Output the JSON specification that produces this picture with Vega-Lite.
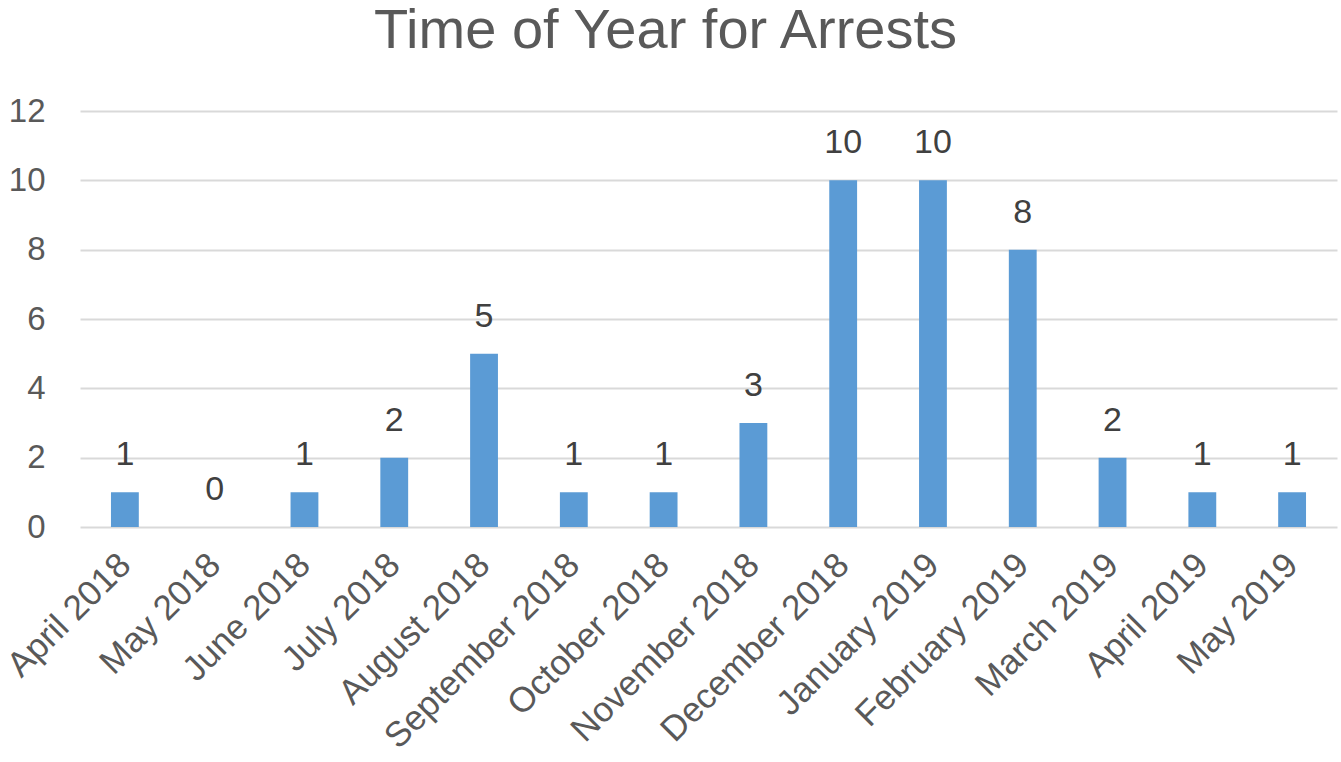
{
  "$schema": "https://vega.github.io/schema/vega-lite/v6.json",
  "width": 1257,
  "height": 416,
  "autosize": {"type": "none"},
  "padding": {"left": 80, "top": 111, "right": 4, "bottom": 235},
  "background": "white",
  "title": {
    "text": "Time of Year for Arrests",
    "font": "Liberation Sans",
    "fontSize": 56,
    "fontWeight": "normal",
    "color": "#595959",
    "anchor": "middle",
    "frame": "group",
    "dx": -43,
    "offset": 35
  },
  "data": {
    "values": [
      {"month": "April 2018", "arrests": 1},
      {"month": "May 2018", "arrests": 0},
      {"month": "June 2018", "arrests": 1},
      {"month": "July 2018", "arrests": 2},
      {"month": "August 2018", "arrests": 5},
      {"month": "September 2018", "arrests": 1},
      {"month": "October 2018", "arrests": 1},
      {"month": "November 2018", "arrests": 3},
      {"month": "December 2018", "arrests": 10},
      {"month": "January 2019", "arrests": 10},
      {"month": "February 2019", "arrests": 8},
      {"month": "March 2019", "arrests": 2},
      {"month": "April 2019", "arrests": 1},
      {"month": "May 2019", "arrests": 1}
    ]
  },
  "encoding": {
    "x": {
      "field": "month",
      "type": "nominal",
      "sort": null,
      "scale": {"paddingInner": 0.69, "paddingOuter": 0.345},
      "axis": {
        "title": null,
        "labelAngle": -45,
        "labelAlign": "right",
        "labelBaseline": "middle",
        "labelFont": "Liberation Sans",
        "labelFontSize": 35,
        "labelColor": "#595959",
        "labelPadding": 32,
        "labelLimit": 0,
        "ticks": false,
        "domain": false,
        "grid": false
      }
    },
    "y": {
      "field": "arrests",
      "type": "quantitative",
      "scale": {"domain": [0, 12]},
      "axis": {
        "title": null,
        "values": [0, 2, 4, 6, 8, 10, 12],
        "labelFont": "Liberation Sans",
        "labelFontSize": 33,
        "labelColor": "#595959",
        "labelPadding": 35,
        "labelAlign": "right",
        "ticks": false,
        "domain": false,
        "grid": true,
        "gridColor": "#d9d9d9",
        "gridWidth": 2
      }
    }
  },
  "layer": [
    {"mark": {"type": "bar", "color": "#5b9bd5"}},
    {
      "mark": {
        "type": "text",
        "baseline": "bottom",
        "dy": -20,
        "font": "Liberation Sans",
        "fontSize": 34,
        "color": "#404040"
      },
      "encoding": {"text": {"field": "arrests", "type": "quantitative"}}
    }
  ],
  "config": {"view": {"stroke": null}}
}
